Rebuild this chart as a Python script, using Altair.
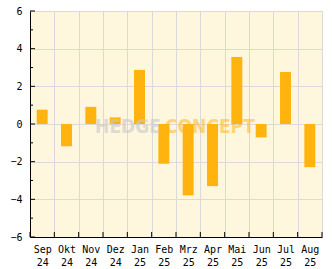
import altair as alt
import pandas as pd

months = ["Sep 24", "Okt 24", "Nov 24", "Dez 24", "Jan 25", "Feb 25",
          "Mrz 25", "Apr 25", "Mai 25", "Jun 25", "Jul 25", "Aug 25"]
values = [0.76, -1.18, 0.91, 0.35, 2.87, -2.11, -3.79, -3.30, 3.56, -0.71, 2.76, -2.29]
major_ticks = [-6, -4, -2, 0, 2, 4, 6]
minor_ticks = [-5, -3, -1, 1, 3, 5]

df = pd.DataFrame({"month": months, "value": values})
df_major = pd.DataFrame({"value": major_ticks})
df_minor = pd.DataFrame({"value": minor_ticks})

W, H = 292, 226
FONT = "DejaVu Sans Mono"
BAR = "#FFB30F"
GRID = "#DADADA"

xscale = alt.Scale(domain=months, paddingInner=0, paddingOuter=0)
yscale = alt.Scale(domain=[-6, 6], nice=False)

xaxis = alt.Axis(tickBand="extent", grid=True, gridColor=GRID, gridWidth=1,
                 ticks=False, tickSize=0, domainColor="black", domainWidth=1,
                 labelAngle=0, labelFont=FONT, labelFontSize=10, labelColor="black",
                 labelPadding=7, labelBaseline="top", labelLineHeight=13,
                 labelOverlap=False, title=None,
                 labelExpr="split(datum.label, ' ')")
yaxis = alt.Axis(values=major_ticks, grid=True, gridColor=GRID, gridWidth=1,
                 ticks=False, tickSize=0, domainColor="black", domainWidth=1,
                 labelFont=FONT, labelFontSize=10, labelColor="black",
                 labelOverlap=False, labelFlush=False, labelPadding=8, title=None)

bars = alt.Chart(df).mark_bar(color=BAR, width=alt.RelativeBandSize(0.45)).encode(
    x=alt.X("month:N", sort=months, scale=xscale, axis=xaxis),
    y=alt.Y("value:Q", scale=yscale, axis=yaxis),
)

xticks = alt.Chart(df).mark_rule(color="black", strokeWidth=1).encode(
    x=alt.X("month:N", sort=months, scale=xscale, bandPosition=0, axis=xaxis),
    y=alt.value(H - 5), y2=alt.value(H),
)
xtick_end = alt.Chart(df).mark_rule(color="black", strokeWidth=1).encode(
    x=alt.value(W), y=alt.value(H - 5), y2=alt.value(H),
).transform_filter(alt.datum.month == months[-1])

ymajor = alt.Chart(df_major).mark_rule(color="black", strokeWidth=1).encode(
    y=alt.Y("value:Q", scale=yscale, axis=yaxis), x=alt.value(0), x2=alt.value(5),
)
yminor = alt.Chart(df_minor).mark_rule(color="black", strokeWidth=1).encode(
    y=alt.Y("value:Q", scale=yscale, axis=yaxis), x=alt.value(0), x2=alt.value(3),
)

wm_font = "DejaVu Sans Condensed"
hedge = alt.Chart(df).mark_text(
    text="HEDGE", font=wm_font, fontWeight="bold", fontSize=19, align="right",
    baseline="alphabetic", color="#C8C8C8", opacity=0.6,
).encode(x=alt.value(131), y=alt.value(122)).transform_filter(alt.datum.month == months[0])
concept = alt.Chart(df).mark_text(
    text="CONCEPT", font=wm_font, fontWeight="bold", fontSize=19, align="left",
    baseline="alphabetic", color=BAR, opacity=0.5,
).encode(x=alt.value(135), y=alt.value(122)).transform_filter(alt.datum.month == months[0])

chart = alt.layer(bars, xticks, xtick_end, ymajor, yminor, hedge, concept).properties(
    width=W, height=H,
    autosize=alt.AutoSizeParams(type="none"),
    padding={"left": 30, "top": 11, "right": 10, "bottom": 32},
    background="white",
).configure_view(fill="#FFF6DE", stroke=GRID, strokeWidth=1)

chart.save("out.html", embed_options={"renderer": "svg", "actions": False})
